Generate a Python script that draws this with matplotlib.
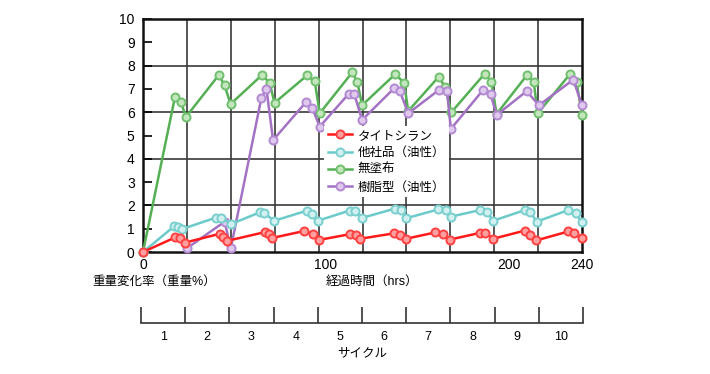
"""Weight change vs elapsed time for four coatings, with a cycle axis below."""
import matplotlib
matplotlib.use("Agg")
import matplotlib.pyplot as plt
from matplotlib.ticker import FixedLocator, NullFormatter

plt.rcParams["font.family"] = ["Liberation Sans", "Noto Sans CJK JP", "DejaVu Sans"]

# elapsed hours / weight change (%)
red_t = [0, 17.7, 20.0, 22.8, 41.9, 43.7, 46.1, 66.5, 68.7, 70.6, 88.0, 93.0, 96.2,
         112.9, 116.3, 118.8, 137.2, 140.3, 143.9, 159.8, 164.0, 167.6,
         184.2, 187.0, 191.5, 208.8, 211.5, 215.1, 232.5, 235.8, 239.8]
red_v = [0, 0.63, 0.62, 0.40, 0.78, 0.66, 0.48, 0.85, 0.77, 0.60, 0.90, 0.77, 0.52,
         0.76, 0.75, 0.57, 0.80, 0.71, 0.57, 0.84, 0.77, 0.53,
         0.82, 0.82, 0.57, 0.92, 0.75, 0.50, 0.88, 0.82, 0.59]

cyan_t = [0, 17.0, 19.0, 21.2, 40.0, 42.8, 48.1, 63.8, 65.9, 71.7, 89.4, 92.2, 95.5,
          113.0, 115.8, 119.6, 137.6, 141.2, 144.0, 161.5, 165.5, 168.4,
          184.3, 187.8, 191.4, 208.8, 211.8, 215.2, 232.5, 236.5, 240.0]
cyan_v = [0, 1.10, 1.08, 0.98, 1.48, 1.47, 1.20, 1.70, 1.69, 1.34, 1.77, 1.65, 1.34,
          1.78, 1.78, 1.46, 1.86, 1.80, 1.45, 1.83, 1.80, 1.52,
          1.80, 1.73, 1.34, 1.80, 1.71, 1.30, 1.80, 1.66, 1.28]

green_t = [0, 17.5, 20.6, 23.5, 41.5, 44.6, 47.9, 65.1, 69.3, 71.9, 89.7, 93.9, 96.6,
           114.5, 117.2, 119.8, 138.0, 142.8, 145.0, 161.7, 165.0, 168.6,
           186.9, 190.5, 193.3, 210.0, 213.6, 215.8, 233.3, 237.0, 240.0]
green_v = [0, 6.66, 6.45, 5.80, 7.60, 7.15, 6.35, 7.60, 7.25, 6.40, 7.58, 7.32, 5.95,
           7.72, 7.28, 6.30, 7.64, 7.24, 6.05, 7.52, 7.10, 6.00,
           7.66, 7.30, 5.92, 7.60, 7.30, 5.95, 7.62, 7.30, 5.90]

purple_t = [24.0, 44.6, 48.0, 64.7, 67.5, 71.1, 89.3, 92.6, 96.6, 112.6, 115.4, 119.8,
            137.2, 140.3, 145.0, 161.7, 166.2, 168.3, 186.0, 190.0, 193.3,
            209.7, 216.5, 235.3, 239.9]
purple_v = [0.16, 1.30, 0.16, 6.60, 7.00, 4.80, 6.45, 6.17, 5.38, 6.80, 6.80, 5.67,
            7.02, 6.93, 5.95, 6.95, 6.90, 5.28, 6.96, 6.78, 5.88,
            6.90, 6.30, 7.40, 6.30]

labels = ["タイトシラン", "他社品（油性）", "無塗布", "樹脂型（油性）"]
x_ticks = [0, 100, 200, 240]
cycle_labels = [str(i) for i in range(1, 11)]

# (line, marker face, marker edge, zorder)
styles = [
    ("#ff1a1a", "#ffa0a0", "#ff4040", 6),
    ("#6ccaca", "#d2f0f0", "#7acfcf", 5),
    ("#55b055", "#c4e6bd", "#70c070", 3),
    ("#a472c4", "#dfcaee", "#b38ad2", 4),
]


def main() -> None:
    fig = plt.figure(figsize=(7.10, 3.74), dpi=100)
    ax = fig.add_axes([143 / 710, 1 - 252 / 374, 439 / 710, 233 / 374])

    series = [(red_t, red_v), (cyan_t, cyan_v), (green_t, green_v), (purple_t, purple_v)]
    for (t, v), lab, (lc, fc, ec, z) in zip(series, labels, styles):
        ax.plot(t, v, "-o", color=lc, lw=1.8, ms=5.8, mfc=fc, mec=ec, mew=1.4,
                label=lab, zorder=z, clip_on=False)

    ax.set_xlim(0, 240)
    ax.set_ylim(0, 10)
    ax.set_xticks(x_ticks)
    ax.set_xticklabels([str(x) for x in x_ticks])
    ax.set_yticks(range(0, 11))
    ax.tick_params(axis="y", direction="in", length=6.5, width=1.2, labelsize=10, pad=6)
    ax.tick_params(axis="x", length=0, labelsize=10, pad=4)

    for h in range(24, 240, 24):
        ax.axvline(h, color="#3a3a3a", lw=1.2, zorder=1)
    for yv in (2, 4, 6, 8):
        ax.axhline(yv, color="#3a3a3a", lw=1.2, zorder=1)
    for s in ax.spines.values():
        s.set_linewidth(1.8)
        s.set_color("#111111")

    leg = ax.legend(loc="upper left", bbox_to_anchor=(324 / 710, 1 - 126 / 374),
                    bbox_transform=fig.transFigure, fontsize=9, frameon=True,
                    fancybox=False, edgecolor="none", facecolor="white", framealpha=1,
                    handlelength=1.9, handletextpad=0.5, labelspacing=0.42,
                    borderpad=0.3, borderaxespad=0)
    leg.set_zorder(10)

    fig.text(92 / 710, 1 - 282 / 374, "重量変化率（重量%）", fontsize=9, va="center", ha="left")
    fig.text(372 / 710, 1 - 282 / 374, "経過時間（hrs）", fontsize=9, va="center", ha="center")

    # cycle axis
    cx = fig.add_axes([141 / 710, 1 - 323 / 374, 442 / 710, 0.06])
    cx.set_xlim(0, 240)
    cx.set_ylim(0, 1)
    for name in ("top", "left", "right"):
        cx.spines[name].set_visible(False)
    cx.spines["bottom"].set_linewidth(1.2)
    cx.spines["bottom"].set_color("#333333")
    cx.patch.set_visible(False)
    cx.set_yticks([])
    cx.xaxis.set_major_locator(FixedLocator(range(0, 241, 24)))
    cx.xaxis.set_major_formatter(NullFormatter())
    cx.xaxis.set_minor_locator(FixedLocator([12 + 24 * i for i in range(10)]))
    cx.set_xticklabels(cycle_labels, minor=True)
    cx.tick_params(axis="x", which="major", direction="in", length=11.5, width=1.2,
                   color="#333333")
    cx.tick_params(axis="x", which="minor", length=0, labelsize=9, pad=6)
    cx.set_xlabel("サイクル", fontsize=9, labelpad=3)

    fig.savefig("out.png", dpi=100)
    plt.close(fig)


if __name__ == "__main__":
    main()
